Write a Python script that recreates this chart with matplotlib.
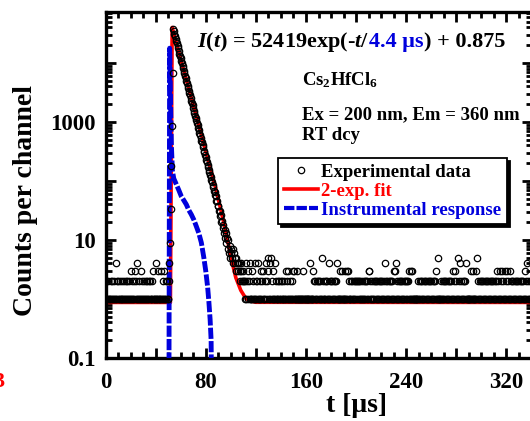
import numpy as np
import matplotlib
matplotlib.use("Agg")
import matplotlib.pyplot as plt
from matplotlib.lines import Line2D
from matplotlib.ticker import LogLocator, MultipleLocator, FuncFormatter, NullFormatter

plt.rcParams['font.family'] = ['Liberation Serif', 'DejaVu Serif']
plt.rcParams['font.weight'] = 'bold'
plt.rcParams['mathtext.fontset'] = 'custom'
plt.rcParams['mathtext.rm'] = 'Liberation Serif:bold'
plt.rcParams['mathtext.bf'] = 'Liberation Serif:bold'
plt.rcParams['mathtext.it'] = 'Liberation Serif:italic:bold'

# channel width of the decay histogram (us)
dt = 0.5

# baseline counts before the pulse, t = 0 .. 50 us (one digit per channel)
base_left = ("12112111211211214121"
             "21121121112112121121"
             "13121213121412113121"
             "12112121121211213111"
             "41113111131121312121"
             "1")

# rising edge, t = 50.5 .. 54 us
rise = [2, 4, 9, 34, 178, 850, 6800, 38000]

# decay, t = 54.5 .. 100 us
decay = [34700, 31500, 28900, 25800, 23300, 21500, 19400, 17900, 15900, 14400,
         13300, 12000, 10900, 9850, 8900, 8150, 7350, 6650, 6000, 5480,
         5010, 4540, 4120, 3720, 3390, 3080, 2810, 2520, 2290, 2080,
         1910, 1730, 1560, 1420, 1280, 1180, 1060, 960, 875, 790,
         730, 655, 605, 545, 485, 450, 402, 372, 328, 305,
         272, 254, 226, 207, 183, 172, 152, 143, 124, 117,
         102, 97, 84, 80, 68, 66, 57, 55, 46, 45,
         38, 37, 31, 31, 25, 26, 20, 21, 16, 18,
         13, 15, 11, 13, 9, 11, 7, 10, 6, 8,
         5, 7]

# tail and background, t = 100.5 .. 340 us
base_right = ("65746545344343234232"
              "21241231214113121412"
              "12141213121312141253"
              "14151213141211212112"
              "12112113121312112131"
              "31111311111111311111"
              "11111141113121212121"
              "21215121121212141212"
              "12121212411113113111"
              "13113131211212121212"
              "21212121121212121213"
              "31212112121212121212"
              "12121412121212121213"
              "13141212121212121212"
              "21213131311111111121"
              "12121212121212121212"
              "12121213151111121212"
              "12121212121213121312"
              "15121412121212141111"
              "11311131113151212121"
              "21212121212121212121"
              "21213121312131213121"
              "31213121212121212121"
              "21212121312141212121")

# 2-exp. fit curve
fit_t = [0, 51.8, 53.2, 60, 70, 80, 88, 92, 96, 100, 104, 108, 112, 116, 120, 340]
fit_v = [0.875, 0.875, 40000, 11700, 1950, 324, 75, 33, 14, 5.2, 2.3, 1.4, 1.02, 0.92, 0.88, 0.875]

# instrumental response
irf_t = [50.6, 51.2, 51.9, 52.6, 53.4, 54.5, 56.5, 58.5, 60.5, 62.5, 64.5, 66.5,
         68.5, 70.5, 72.5, 74.5, 76.5, 78.5, 80, 81.5, 82.5, 83.5, 84.3, 84.8]
irf_v = [0.01, 17800, 2500, 400, 150, 110, 88, 70, 55, 47, 40, 32,
         27, 22, 17, 13, 9, 5, 3, 1.6, 0.9, 0.45, 0.2, 0.01]

counts = np.array([int(c) for c in base_left] + rise + decay + [int(c) for c in base_right], float)
t = np.arange(len(counts)) * dt
counts[counts <= 0] = np.nan

fig = plt.figure(figsize=(5.30, 4.21), dpi=100)
ax = fig.add_axes([105.5 / 530, 63 / 421, 426 / 530, 346 / 421])

ax.plot(fit_t, fit_v, color='#ff0000', lw=2.6, zorder=2)
ax.plot(irf_t, irf_v, color='#0000dd', lw=3.5, ls=(0, (2.3, 0.45)), zorder=3)
ax.plot(t, counts, ls='none', marker='o', ms=4.6, mfc='none', mec='black', mew=0.9, zorder=4)

ax.set_yscale('log')
ax.set_xlim(0, 340)
ax.set_ylim(0.1, 73000)

ax.xaxis.set_major_locator(MultipleLocator(40))
ax.xaxis.set_minor_locator(MultipleLocator(10))
ax.xaxis.set_major_formatter(FuncFormatter(lambda v, p: '%d' % v if round(v) % 80 == 0 else ''))
ax.yaxis.set_major_locator(LogLocator(base=10, numticks=20))
ax.yaxis.set_minor_locator(LogLocator(base=10, subs=np.arange(2, 10), numticks=20))
ax.yaxis.set_minor_formatter(NullFormatter())


def ylab(v, p):
    e = int(round(np.log10(v)))
    if e % 2 == 0:
        return ''
    return '0.1' if e == -1 else '%d' % round(v)


ax.yaxis.set_major_formatter(FuncFormatter(ylab))

ax.tick_params(which='both', direction='in', top=True, right=True, width=2)
ax.tick_params(which='major', length=7)
ax.tick_params(which='minor', length=4)
ax.tick_params(axis='x', which='major', pad=10, labelsize=16.5)
ax.tick_params(axis='y', which='major', pad=7, labelsize=16.5)
for s in ax.spines.values():
    s.set_linewidth(2.4)

fig.text(356 / 530, 1 - 405 / 421, 't [\u03bcs]', ha='center', va='center', fontsize=20)
fig.text(26 / 530, 1 - 201 / 421, 'Counts per channel', ha='center', va='center',
         rotation=90, fontsize=20)
fig.text(-7 / 530, 1 - 382 / 421, '3', color='red', ha='left', va='center', fontsize=16)

# fit equation, pieced together for the blue lifetime
fs = 16
x0, y0 = (197 - 105.5) / 426, (358 - 42) / 346
parts = [(r'$\mathit{I}$($\mathit{t}$) = 52419exp(-$\mathit{t}$/', 'black'),
         ('4.4 \u03bcs', '#0000dd'),
         (') + 0.875', 'black')]
fig.canvas.draw()
r = fig.canvas.get_renderer()
xp = x0
for txt, col in parts:
    h = ax.text(xp, y0, txt, color=col, fontsize=fs, transform=ax.transAxes,
                ha='left', va='center')
    bb = h.get_window_extent(renderer=r).transformed(ax.transAxes.inverted())
    xp = bb.x1

tx = (301.7 - 105.5) / 426
ax.text(tx, (358 - 80) / 346, r'Cs$_{\mathrm{2}}$HfCl$_{\mathrm{6}}$', fontsize=13.5,
        transform=ax.transAxes, ha='left', va='center')
ax.text(tx, (358 - 115) / 346, 'Ex = 200 nm, Em = 360 nm', fontsize=13.5,
        transform=ax.transAxes, ha='left', va='center')
ax.text(tx, (358 - 135) / 346, 'RT dcy', fontsize=13.5,
        transform=ax.transAxes, ha='left', va='center')

handles = [Line2D([], [], ls='none', marker='o', ms=4.6, mfc='none', mec='black', mew=0.9),
           Line2D([], [], color='#ff0000', lw=2.6),
           Line2D([], [], color='#0000dd', lw=3, ls=(0, (2.5, 0.5)))]
labels = ['Experimental data', '2-exp. fit', 'Instrumental response']
leg = ax.legend(handles, labels, loc='upper right', bbox_to_anchor=((507 - 105.5) / 426, (358 - 158) / 346),
                borderaxespad=0, fontsize=13.5, handlelength=1.8, handletextpad=0.2,
                labelspacing=0.1, borderpad=0.3, fancybox=False, framealpha=1,
                shadow={'color': 'black', 'alpha': 1})
leg.get_frame().set_edgecolor('black')
leg.get_frame().set_linewidth(1.3)
for txt, col in zip(leg.get_texts(), ['black', '#ff0000', '#0000dd']):
    txt.set_color(col)

fig.savefig('out.png', dpi=100)
